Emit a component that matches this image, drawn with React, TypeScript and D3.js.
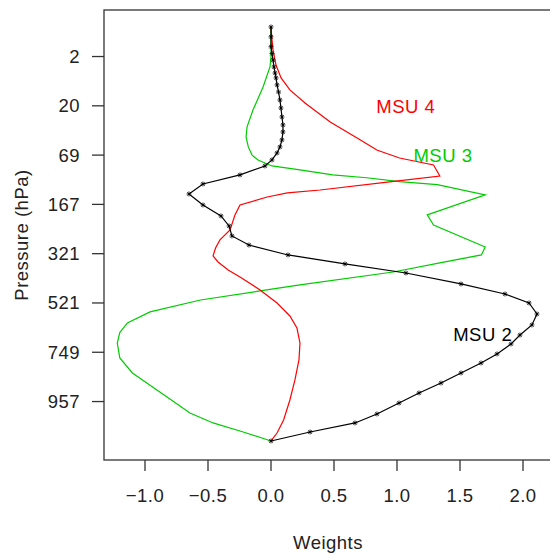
import React from "react";
import * as d3 from "d3";

// y is the model level position (0 = top level, 42 = surface); ticks every 5 levels
const pressureTicks = [3, 8, 13, 18, 23, 28, 33, 38];
const pressureLabels = ["2", "20", "69", "167", "321", "521", "749", "957"];
const weightTicks = [-1.0, -0.5, 0.0, 0.5, 1.0, 1.5, 2.0];

// MSU 2 (black, with markers)
const msu2Lev = [0, 1.0, 2.0, 2.7, 3.35, 4.06, 4.67, 5.17, 5.88, 6.6, 7.41, 8.22, 9.13, 9.94, 10.65, 11.46, 12.17, 12.78, 13.49, 14.1, 15.01, 15.93, 16.94, 18.06, 19.17, 20.19, 21.2, 22.12, 23.13, 24.04, 24.96, 26.07, 27.09, 28.0, 29.12, 30.23, 31.25, 32.16, 33.17, 34.09, 35.1, 36.12, 37.13, 38.15, 39.26, 40.17, 41.09, 42];
const msu2W = [0, 0, 0, 0.008, 0.016, 0.024, 0.032, 0.04, 0.048, 0.06, 0.071, 0.079, 0.087, 0.095, 0.095, 0.087, 0.071, 0.048, 0.008, -0.048, -0.246, -0.54, -0.651, -0.54, -0.397, -0.333, -0.31, -0.175, 0.135, 0.587, 1.071, 1.508, 1.857, 2.048, 2.111, 2.071, 1.976, 1.905, 1.794, 1.667, 1.508, 1.349, 1.175, 1.016, 0.841, 0.667, 0.31, 0];

// MSU 3 (green)
const msu3Lev = [0, 2.0, 3.0, 4.06, 6.09, 8.42, 10.14, 11.16, 12.17, 13.0, 13.5, 14.1, 14.5, 15.0, 15.3, 15.7, 16.0, 17.04, 19.07, 20.09, 22.32, 23.13, 23.94, 24.86, 26.17, 26.78, 27.7, 28.91, 30.03, 31.0, 32.06, 33.58, 35.1, 37.54, 39.16, 40.17, 41.09, 42];
const msu3W = [0, 0, 0.0, -0.008, -0.063, -0.143, -0.19, -0.198, -0.18, -0.15, -0.103, 0.008, 0.23, 0.49, 0.76, 1.02, 1.32, 1.7, 1.24, 1.29, 1.7, 1.67, 1.34, 0.97, 0.23, -0.087, -0.56, -0.96, -1.14, -1.2, -1.22, -1.2, -1.1, -0.825, -0.643, -0.46, -0.22, 0];

// MSU 4 (red)
const msu4Lev = [0, 1.3, 2.33, 3.86, 5.17, 6.39, 7.71, 9.64, 11.46, 12.48, 13.29, 14.0, 15.12, 15.72, 16.54, 16.84, 17.25, 18.06, 19.07, 20.6, 21.6, 22.42, 23.23, 23.84, 24.65, 25.36, 26.68, 28.0, 29.32, 30.54, 32.06, 33.78, 35.81, 37.84, 39.87, 41.19, 42];
const msu4W = [0, 0.008, 0.016, 0.04, 0.08, 0.15, 0.27, 0.47, 0.71, 0.84, 1.02, 1.29, 1.34, 0.94, 0.39, 0.13, -0.03, -0.246, -0.286, -0.325, -0.405, -0.44, -0.46, -0.42, -0.34, -0.246, -0.087, 0.048, 0.15, 0.206, 0.23, 0.222, 0.19, 0.15, 0.1, 0.048, 0];

const seriesLabels = [
  { text: "MSU 4", w: 1.07, lev: 8.0, color: "#ff0000" },
  { text: "MSU 3", w: 1.365, lev: 13.05, color: "#00cc00" },
  { text: "MSU 2", w: 1.68, lev: 31.15, color: "#000000" },
];

const W = 550;
const H = 556;
const left = 104, right = 552, top = 10, bottom = 460;
const FONT = "'Liberation Sans', Arial, Helvetica, sans-serif";
const FS = 18.5;
const LS = 0.5;

export default function App() {
  const x = d3.scaleLinear().domain([-1.3254, 2.2302]).range([left, right]);
  const y = d3.scaleLinear().domain([-1.72, 43.93]).range([top, bottom]);

  const line = d3
    .line<[number, number]>()
    .x((d) => x(d[0]))
    .y((d) => y(d[1]));

  const toPts = (ws: number[], ls: number[]): [number, number][] =>
    ws.map((w, i) => [w, ls[i]]);

  const p2 = toPts(msu2W, msu2Lev);
  const p3 = toPts(msu3W, msu3Lev);
  const p4 = toPts(msu4W, msu4Lev);

  const axisColor = "#333";

  return (
    <svg
      width={W}
      height={H}
      style={{ position: "absolute", left: 0, top: 0, background: "#fff" }}
      fontFamily={FONT}
      letterSpacing={LS}
    >
      {/* plot box */}
      <rect
        x={left}
        y={top}
        width={right - left}
        height={bottom - top}
        fill="none"
        stroke={axisColor}
        strokeWidth={1.3}
      />
      {/* y ticks */}
      {pressureTicks.map((t, i) => (
        <g key={"yt" + i}>
          <line x1={left - 12} x2={left} y1={y(t)} y2={y(t)} stroke={axisColor} strokeWidth={1.3} />
          <text x={80} y={y(t) + 6.5} textAnchor="end" fontSize={FS} fill="#222">
            {pressureLabels[i]}
          </text>
        </g>
      ))}
      {/* x ticks */}
      {weightTicks.map((t, i) => (
        <g key={"xt" + i}>
          <line x1={x(t)} x2={x(t)} y1={bottom} y2={bottom + 11} stroke={axisColor} strokeWidth={1.3} />
          <text x={x(t)} y={502} textAnchor="middle" fontSize={FS} fill="#222">
            {t < 0 ? "\u2212" + Math.abs(t).toFixed(1) : t.toFixed(1)}
          </text>
        </g>
      ))}
      <text x={(left + right) / 2} y={549} textAnchor="middle" fontSize={FS} fill="#222">
        Weights
      </text>
      <text
        transform={`translate(28,${(top + bottom) / 2}) rotate(-90)`}
        textAnchor="middle"
        fontSize={FS}
        fill="#222"
      >
        Pressure (hPa)
      </text>

      {/* curves */}
      <path d={line(p3) || ""} fill="none" stroke="#00cc00" strokeWidth={1.2} />
      <path d={line(p4) || ""} fill="none" stroke="#ff0000" strokeWidth={1.2} />
      <path d={line(p2) || ""} fill="none" stroke="#000" strokeWidth={1.2} />
      {p2.map((d, i) => {
        const cx = x(d[0]);
        const cy = y(d[1]);
        const r = 2.5;
        const q = 1.8;
        return (
          <g key={"m" + i} stroke="#000" strokeWidth={0.8}>
            <line x1={cx - r} x2={cx + r} y1={cy} y2={cy} />
            <line x1={cx} x2={cx} y1={cy - r} y2={cy + r} />
            <line x1={cx - q} x2={cx + q} y1={cy - q} y2={cy + q} />
            <line x1={cx - q} x2={cx + q} y1={cy + q} y2={cy - q} />
          </g>
        );
      })}

      {seriesLabels.map((s, i) => (
        <text
          key={"sl" + i}
          x={x(s.w)}
          y={y(s.lev) + 6.8}
          textAnchor="middle"
          fontSize={FS}
          fill={s.color}
        >
          {s.text}
        </text>
      ))}
    </svg>
  );
}
